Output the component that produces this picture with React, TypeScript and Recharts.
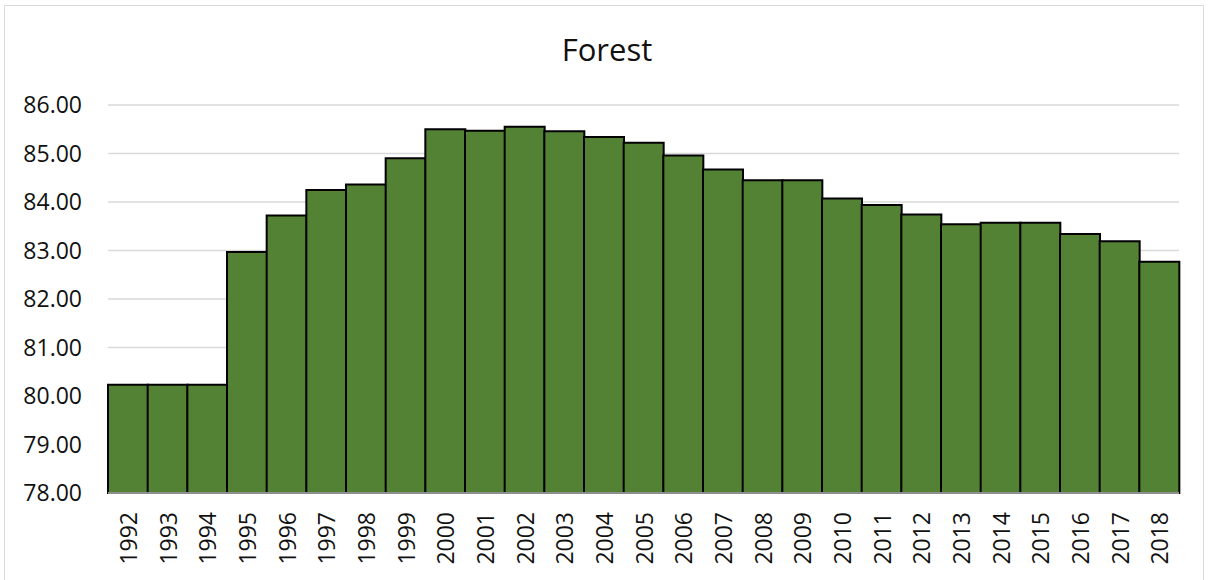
import { Bar, BarChart, CartesianGrid, XAxis, YAxis } from 'recharts'

const years = [
  '1992', '1993', '1994', '1995', '1996', '1997', '1998', '1999', '2000',
  '2001', '2002', '2003', '2004', '2005', '2006', '2007', '2008', '2009',
  '2010', '2011', '2012', '2013', '2014', '2015', '2016', '2017', '2018',
]

const forest = [
  80.23, 80.23, 80.23, 82.97, 83.72, 84.25, 84.36, 84.9, 85.5,
  85.47, 85.55, 85.46, 85.34, 85.22, 84.96, 84.67, 84.45, 84.45,
  84.07, 83.94, 83.74, 83.54, 83.57, 83.57, 83.34, 83.19, 82.77,
]

const yTicks = [78, 79, 80, 81, 82, 83, 84, 85, 86]

const data = years.map((year, i) => ({ year, forest: forest[i] }))

const FONT = '"Open Sans", sans-serif'

function YearTick(props: any) {
  const { x, y, payload } = props
  return (
    <text
      x={x}
      y={y}
      transform={`rotate(-90 ${x} ${y})`}
      textAnchor="end"
      dominantBaseline="central"
      fill="#111"
      fontSize={23}
      fontFamily={FONT}
    >
      {payload.value}
    </text>
  )
}

export default function App() {
  return (
    <div style={{ position: 'absolute', left: 0, top: 0, width: 1208, height: 580, overflow: 'hidden', background: '#fff' }}>
      <div
        style={{
          position: 'absolute',
          left: 4,
          top: 5,
          width: 1200,
          height: 600,
          border: '1px solid #d9d9d9',
          boxSizing: 'border-box',
        }}
      />
      <div
        style={{
          position: 'absolute',
          left: 0,
          top: 33.5,
          width: 1214,
          textAlign: 'center',
          fontFamily: FONT,
          fontSize: 31,
          lineHeight: '31px',
          color: '#111',
        }}
      >
        Forest
      </div>
      <div style={{ position: 'absolute', left: 0, top: 0 }}>
        <BarChart
          width={1208}
          height={580}
          data={data}
          margin={{ top: 105, right: 29, bottom: 0, left: 0 }}
          barCategoryGap={0}
        >
          <CartesianGrid vertical={false} stroke="#d9d9d9" strokeWidth={1.5} />
          <XAxis
            dataKey="year"
            height={87}
            tickLine={false}
            tickSize={0}
            tickMargin={19}
            stroke="#bfbfbf"
            strokeWidth={1.5}
            interval={0}
            tick={<YearTick />}
          />
          <YAxis
            width={108}
            domain={[78, 86]}
            ticks={yTicks}
            axisLine={false}
            tickLine={false}
            tickSize={0}
            tickMargin={26}
            tickFormatter={(v: number) => v.toFixed(2)}
            tick={{ fill: '#111', fontSize: 23, fontFamily: FONT }}
          />
          <Bar dataKey="forest" fill="#548235" stroke="#000" strokeWidth={2} isAnimationActive={false} />
        </BarChart>
      </div>
    </div>
  )
}
